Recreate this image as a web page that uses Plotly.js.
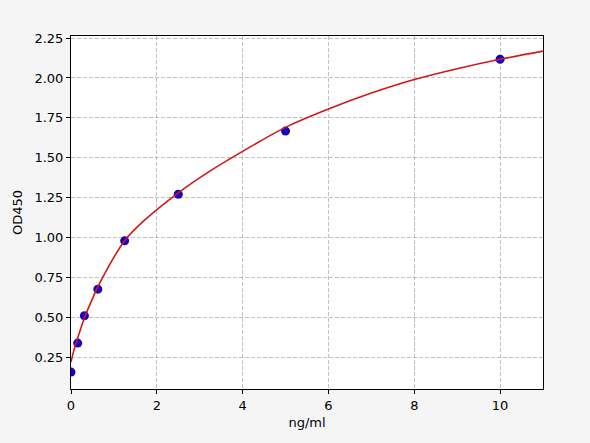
<!DOCTYPE html>
<html>
<head>
<meta charset="utf-8">
<script src="https://cdn.plot.ly/plotly-3.0.1.min.js"></script>
<style>html,body{margin:0;padding:0;background:#f5f5f5;}#chart{width:590px;height:443px;}</style>
</head>
<body>
<div id="chart"></div>
<script>
// Standard points (ng/ml, OD450)
var concentrations = [0, 0.156, 0.3125, 0.625, 1.25, 2.5, 5, 10];
var odValues = [0.156, 0.338, 0.509, 0.676, 0.979, 1.271, 1.667, 2.117];
// Fitted curve
var curveX = [0, 0.075, 0.15, 0.3125, 0.45, 0.625, 0.85, 1.25, 1.7, 2.5, 3.2, 4.0, 5, 6, 7, 8, 9, 10, 11];
var curveY = [0.22, 0.30, 0.365, 0.495, 0.585, 0.69, 0.805, 0.98, 1.105, 1.28, 1.41, 1.54, 1.69, 1.805, 1.905, 1.99, 2.058, 2.117, 2.168];
var xTicks = [0, 2, 4, 6, 8, 10];
var yTicks = [0.25, 0.5, 0.75, 1.0, 1.25, 1.5, 1.75, 2.0, 2.25];

var traces = [
  {x: concentrations, y: odValues, mode: 'markers', type: 'scatter',
   marker: {color: '#1400c8', size: 9}, hoverinfo: 'skip'},
  {x: curveX, y: curveY, mode: 'lines', type: 'scatter',
   line: {color: '#d01818', width: 1.6, shape: 'spline', smoothing: 1}, hoverinfo: 'skip'}
];
var axisCommon = {
  showline: true, mirror: true, linecolor: '#000', linewidth: 1,
  ticks: 'outside', ticklen: 4, tickcolor: '#000', tickwidth: 1,
  showgrid: true, gridcolor: '#b0b0b0', gridwidth: 0.8, griddash: '4px,2px',
  zeroline: false, tickfont: {family: 'DejaVu Sans', size: 13, color: '#000'}
};
var layout = {
  width: 590, height: 443,
  paper_bgcolor: '#f5f5f5', plot_bgcolor: '#ffffff',
  margin: {l: 71, r: 47, t: 36, b: 54},
  showlegend: false,
  font: {family: 'DejaVu Sans', size: 13, color: '#000'},
  xaxis: Object.assign({}, axisCommon, {
    range: [0, 11], tickvals: xTicks, ticktext: xTicks.map(String),
    title: {text: 'ng/ml', font: {family: 'DejaVu Sans', size: 13}, standoff: 6}
  }),
  yaxis: Object.assign({}, axisCommon, {
    range: [0.05, 2.263], tickvals: yTicks, ticktext: yTicks.map(function(v){return v.toFixed(2);}),
    title: {text: 'OD450', font: {family: 'DejaVu Sans', size: 13}, standoff: 8}
  })
};
Plotly.newPlot('chart', traces, layout, {displayModeBar: false, staticPlot: true});
</script>
</body>
</html>
